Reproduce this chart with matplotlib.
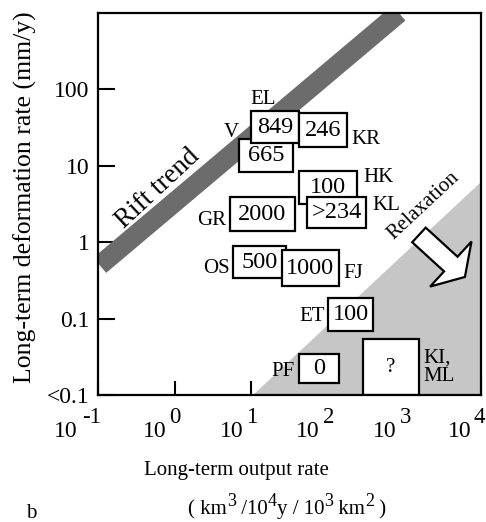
import numpy as np
import matplotlib
matplotlib.use("Agg")
import matplotlib.pyplot as plt
from matplotlib.patches import Rectangle, Polygon, FancyArrow

plt.rcParams['font.family'] = ['Liberation Serif', 'DejaVu Serif']

# ---------------- data ----------------
region_names = ['V', 'EL', 'KR', 'HK', 'KL', 'GR', 'OS', 'FJ', 'ET', 'PF', 'KI,\nML']
region_values = ['665', '849', '246', '100', '>234', '2000', '500', '1000', '100', '0', '?']
# output-rate range (km3/10^4y/10^3km2)
out_lo = [6.9, 10, 42, 42, 53.5, 5.3, 5.8, 25, 100.7, 42, 288]
out_hi = [35, 42, 178, 240, 315, 37, 28.4, 140, 389, 140, 1550]
# deformation-rate range (mm/y)
def_lo = [8.2, 19.8, 17.5, 3.14, 1.52, 1.39, 0.338, 0.265, 0.068, 0.0143, 0.01]
def_hi = [22.3, 51.8, 48.8, 8.5, 3.88, 3.88, 0.887, 0.785, 0.185, 0.0342, 0.0537]
# label anchor positions (data coords)
label_x = [5.45, 14.3, 315, 466, 575, 3.08, 3.47, 213, 62.2, 26, 1750]
label_y = [27.5, 74.5, 22.3, 7.1, 3.05, 1.94, 0.457, 0.393, 0.107, 0.0205, 0.0231]

# rift trend centre line (start and end points) and relaxation field
rift_x = [0.1, 850]
rift_y = [0.477, 1000]
relax_x = [10.6, 1e4, 1e4]
relax_y = [0.01, 0.01, 6.1]

x_ticks = [0.1, 1, 10, 100, 1000, 10000]
x_exponents = ['-1', '0', '1', '2', '3', '4']
y_ticks = [0.01, 0.1, 1, 10, 100]
y_ticklabels = ['<0.1', '0.1', '1', '10', '100']

# ---------------- figure ----------------
W, H = 486, 522
fig = plt.figure(figsize=(W / 100, H / 100), dpi=100)
ax = fig.add_axes([98 / W, 1 - 395 / H, 383 / W, 382 / H])
ax.set_xscale('log')
ax.set_yscale('log')
ax.set_xlim(0.1, 1e4)
ax.set_ylim(0.01, 1000)
renderer = fig.canvas.get_renderer()

# relaxation field
ax.add_patch(Polygon(list(zip(relax_x, relax_y)), closed=True,
                     facecolor='#c6c6c6', edgecolor='none', zorder=1))

# rift trend band (rotated rectangle in log space)
lx = np.log10(rift_x)
ly = np.log10(rift_y)
vec = np.array([lx[1] - lx[0], ly[1] - ly[0]])
length = np.hypot(*vec)
d = vec / length
n = np.array([-d[1], d[0]])
half = 0.17 * d[0]
c0 = np.array([lx[0], ly[0]]) + 0.03 * d
c1 = np.array([lx[1], ly[1]])
pts = [c0 + half * n, c1 + half * n, c1 - half * n, c0 - half * n]
ax.add_patch(Polygon([(10 ** p[0], 10 ** p[1]) for p in pts], closed=True,
                     facecolor='#6c6c6c', edgecolor='none', zorder=1))

# boxes
for i in range(len(region_values)):
    ax.add_patch(Rectangle((out_lo[i], def_lo[i]), out_hi[i] - out_lo[i],
                           def_hi[i] - def_lo[i], facecolor='white',
                           edgecolor='black', lw=1.6, zorder=3 + i * 0.01))
    cx = np.sqrt(out_lo[i] * out_hi[i])
    cy = np.sqrt(def_lo[i] * def_hi[i])
    fs = 15 if region_values[i] == '?' else 17.5
    ax.text(cx, cy, region_values[i], ha='center', va='center', fontsize=fs,
            zorder=3.005 + i * 0.01)
    ha = 'left' if region_names[i].startswith('KI') else 'center'
    ax.text(label_x[i], label_y[i], region_names[i], ha=ha, va='center',
            fontsize=15, zorder=5, linespacing=0.9)

ax.text(0.6, 5.0, 'Rift trend', rotation=43, ha='center', va='center',
        fontsize=19.5, zorder=5)
ax.text(1800, 2.96, 'Relaxation', rotation=43, ha='center', va='center',
        fontsize=15, zorder=5)
ax.add_patch(FancyArrow(0.838, 0.419, 0.12, -0.11, width=0.052,
                        head_width=0.16, head_length=0.05,
                        length_includes_head=True, transform=ax.transAxes,
                        facecolor='white', edgecolor='black', lw=1.6, zorder=4))

# axes styling
for s in ax.spines.values():
    s.set_linewidth(1.6)
    s.set_zorder(10)
ax.set_axisbelow(True)
ax.minorticks_off()
ax.set_xticks(x_ticks)
ax.set_xticklabels([])
ax.set_yticks(y_ticks)
ax.set_yticklabels(y_ticklabels)
ax.tick_params(axis='x', direction='in', length=10, width=1.5)
ax.tick_params(axis='y', direction='in', length=12, width=1.5, labelsize=17, pad=6)


def text_width(s, fs):
    t = fig.text(0, 0, s, fontsize=fs)
    w = t.get_window_extent(renderer).width
    t.remove()
    return w


def seq_text(x_px, base_px, pieces, align='left'):
    """Draw text pieces (string, rise_px, size) consecutively on one baseline."""
    widths = [text_width(s, fs) for s, rise, fs in pieces]
    total = sum(widths)
    x = x_px - (total / 2 if align == 'center' else (total if align == 'right' else 0))
    for (s, rise, fs), w in zip(pieces, widths):
        fig.text(x / W, 1 - (base_px - rise) / H, s, fontsize=fs,
                 ha='left', va='baseline')
        x += w


# x tick labels: "10" + raised exponent
w10 = text_width('10', 17)
for xt, ex in zip(x_ticks, x_exponents):
    px = ax.transData.transform((xt, 1))[0]
    if ex.startswith('-'):
        shift, gap = 20, 4
    elif ex == '4':
        shift, gap = 9, 1
    else:
        shift, gap = 8, 3
    fig.text((px - shift - w10) / W, 1 - 437 / H, '10', fontsize=17,
             ha='left', va='baseline')
    fig.text((px - shift + gap) / W, 1 - 423 / H, ex,
             fontsize=16.5, ha='left', va='baseline')

fig.text(25 / W, 1 - 197 / H, 'Long-term deformation rate (mm/y)', rotation=90,
         ha='center', va='center', fontsize=18.5)
fig.text(236 / W, 1 - 471 / H, 'Long-term output rate', ha='center',
         va='center', fontsize=15)
seq_text(287, 514, [('( km', 0, 15), ('3', 8, 13), (' /10', 0, 15), ('4', 8, 13),
                    ('y / 10', 0, 15), ('3', 8, 13), (' km', 0, 15), ('2', 8, 13),
                    (' )', 0, 15)], align='center')
fig.text(31 / W, 1 - 518 / H, 'b', ha='center', va='baseline', fontsize=15)

fig.savefig('out.png', dpi=100)
